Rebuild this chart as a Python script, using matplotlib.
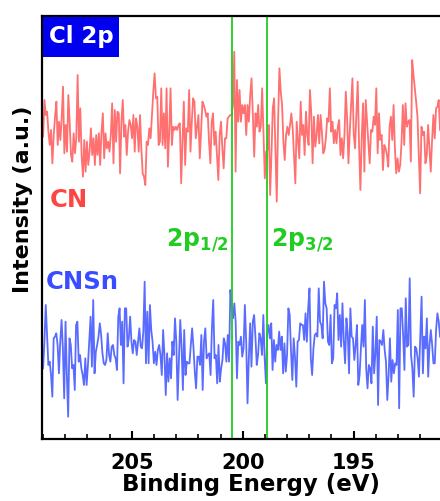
import numpy as np
import matplotlib
matplotlib.use("Agg")
import matplotlib.pyplot as plt
from matplotlib.ticker import MultipleLocator
from matplotlib.patches import Rectangle

plt.rcParams['font.family'] = ['DejaVu Sans']
plt.rcParams['mathtext.fontset'] = 'dejavusans'

# ---- data (arbitrary intensity units) ----
cn_counts = [
    155,265,220,230,170,130,175,75,160,215, 260,130,200,145,210,305,105,190,110,280,
    200,100,80,165,105,150,340,140,240,100, 35,145,50,140,70,110,180,100,150,70,
    160,100,165,70,170,225,90,165,120,140, 110,160,255,75,235,140,230,225,45,200,
    265,155,190,100,170,205,190,150,220,110, 210,185,110,220,120,45,35,10,140,130,
    180,150,220,290,345,270,275,130,140,300, 130,225,120,300,65,170,300,130,185,175,
    185,175,190,195,15,140,260,70,180,170, 295,110,200,270,260,150,185,220,90,170,
    260,250,235,215,225,140,75,200,225,130, 170,100,25,160,200,120,60,150,150,210,
    215,220,220,250,410,
    50,325,200,295,200,250,225,250,160,250, 200,280,330,220,95,225,185,250,170,185,
    300,170,30,110,115,190,-20,100,240,270, 120,-40,200,360,290,250,140,85,160,185,
    160,190,225,180,100,15,200,145,90,260, 160,190,100,230,160,
    130,295,225,75,215,125,160,220,135,220, 170,105,115,150,210,200,300,170,200,135,
    175,135,185,205,100,150,90,160,290,210, 75,170,250,330,160,120,225,320,130,-5,
    150,255,50,265,200,130,75,175,170,215, 190,300,105,225,145,160,55,130,120,100,
    65,185,215,145,250,120,45,90,50,70, 140,250,130,255,185,200,205,80,385,340,
    300,260,215,100,-15,185,160,170,75,100, 190,120,50,145,220,150,240,245,265,175,
]
cnsn_counts = [
    120,200,310,220,130,140,100,35,210,215, 225,190,105,200,265,180,30,260,100,-25,
    210,190,120,130,55,250,260,140,160,120, 100,70,150,70,130,200,275,125,325,105,
    170,190,215,255,220,165,135,130,145,225, 160,140,185,190,160,150,115,275,300,190,
    260,75,300,300,185,210,275,200,165,205, 200,160,200,240,185,180,230,380,135,290,
    135,310,235,200,135,170,130,175,190,160, 100,235,160,40,165,80,150,90,200,160,
    270,200,25,150,265,185,55,235,100,140, 135,135,190,240,185,110,60,155,155,130,
    220,55,200,240,150,160,165,100,240,325, 150,160,75,190,80,120,145,210,195,140,
    220,140,355,310,270,315,260,90,200,190, 215,155,180,310,200,15,150,255,125,260,
    280,215,130,160,225,210,160,280,150,75, 225,250,210,255,115,205,140,190,175,230,
    175,215,105,195,110,160,300,280,170,85, 210,155,65,200,205,255,250,250,205,285,
    200,
    300,360,150,100,180,220,225,215,360,260, 250,210,380,315,300,200,190,280,135,150,
    310,300,345,205,280,185,315,205,135,270, 225,105,300,215,210,145,190,250,70,100,
    180,250,185,325,120,60,130,120,75,245, 105,165,275,10,205,200,190,235,175,140,
    25,100,210,80,145,105,135,130,295,0, 300,300,220,115,330,185,190,390,160,120,
    35,185,180,150,95,220,335,105,215,180, 270,95,190,235,190,135,135,235,285,260,
    215,
]
series_names = ["CN", "CNSn"]
series_offsets = [752, 92]
energy_start, energy_end = 209.0, 191.1
peak_positions = [200.5, 198.9]
peak_labels = [r"$\mathbf{2p_{1/2}}$", r"$\mathbf{2p_{3/2}}$"]
xticks = [205, 200, 195]

x_cn = np.linspace(energy_start, energy_end, len(cn_counts))
x_cnsn = np.linspace(energy_start, energy_end, len(cnsn_counts))

W, H = 440, 501
fig = plt.figure(figsize=(W/100, H/100), dpi=100)
ax_w = 418
ax = fig.add_axes([42/W, 1-439/H, ax_w/W, 423/H])

ax.plot(x_cn, np.array(cn_counts) + series_offsets[0], color="#ff7070", lw=1.3)
ax.plot(x_cnsn, np.array(cnsn_counts) + series_offsets[1], color="#5a6cff", lw=1.3)
for p in peak_positions:
    ax.axvline(p, color="#22cc22", lw=1.3)

ax.set_xlim(209.05, 190.2)
ax.set_ylim(0, 1269)
ax.set_xticks(xticks)
ax.xaxis.set_minor_locator(MultipleLocator(1))
ax.tick_params(axis='x', which='major', direction='in', length=6, width=1.5,
               labelsize=15, pad=10)
ax.tick_params(axis='x', which='minor', direction='in', length=3.5, width=1.2)
ax.set_yticks([])
for lbl in ax.get_xticklabels():
    lbl.set_fontweight('bold')
for s in ax.spines.values():
    s.set_linewidth(1.6)

ax.set_xlabel("Binding Energy (eV)", fontsize=16.5, fontweight='bold', labelpad=0)
ax.set_ylabel("Intensity (a.u.)", fontsize=16, fontweight='bold')
ax.yaxis.set_label_coords(-0.022, 0.567)

ax.add_patch(Rectangle((1/ax_w, (439-57)/423), 76/ax_w, 40/423,
                       transform=ax.transAxes, fc='#0000ee', ec='none', zorder=5))
ax.text((81-42)/ax_w, (439-37)/423, "Cl 2p", transform=ax.transAxes,
        ha='center', va='center', fontsize=16.5, fontweight='bold',
        color='white', zorder=6)

ax.text(8/ax_w, 0.565, series_names[0], transform=ax.transAxes, ha='left',
        va='center', fontsize=17.5, fontweight='bold', color='#ff4444')
ax.text(4/ax_w, 0.371, series_names[1], transform=ax.transAxes, ha='left',
        va='center', fontsize=17.5, fontweight='bold', color='#3a4cff')
ax.text(peak_positions[0] + 0.12, 579, peak_labels[0], ha='right',
        va='baseline', fontsize=17, color='#22cc22')
ax.text(peak_positions[1] - 0.17, 579, peak_labels[1], ha='left',
        va='baseline', fontsize=17, color='#22cc22')

fig.savefig("out.png", dpi=100)
